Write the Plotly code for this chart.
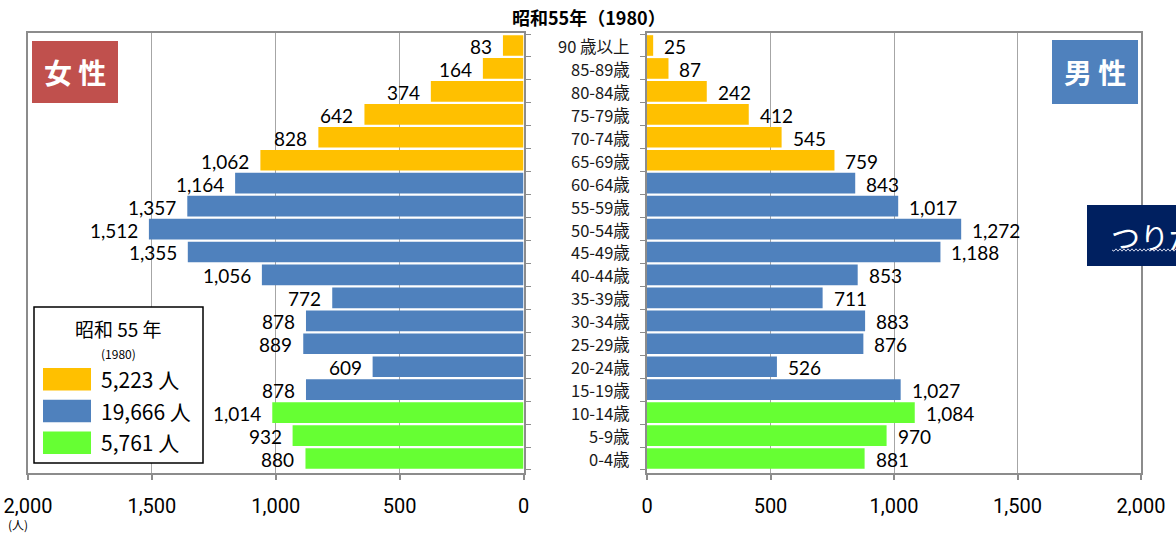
import plotly.graph_objects as go

# Population pyramid, Showa 55 (1980), in persons
age_groups = ["90 歳以上", "85-89歳", "80-84歳", "75-79歳", "70-74歳", "65-69歳",
              "60-64歳", "55-59歳", "50-54歳", "45-49歳", "40-44歳", "35-39歳",
              "30-34歳", "25-29歳", "20-24歳", "15-19歳", "10-14歳", "5-9歳", "0-4歳"]
female = [83, 164, 374, 642, 828, 1062, 1164, 1357, 1512, 1355, 1056, 772,
          878, 889, 609, 878, 1014, 932, 880]
male = [25, 87, 242, 412, 545, 759, 843, 1017, 1272, 1188, 853, 711,
        883, 876, 526, 1027, 1084, 970, 881]
# age band of each row: elderly / working age / children
band = ["elderly"] * 6 + ["working"] * 10 + ["children"] * 3
band_order = ["elderly", "working", "children"]
band_colors = {"elderly": "#FFC000", "working": "#4F81BD", "children": "#66FF33"}
axis_ticks = [0, 500, 1000, 1500, 2000]

W, H = 1176, 535


def px(x):
    return x / W


def py(y):
    return 1 - y / H


bar_colors = [band_colors[b] for b in band]
totals = {b: sum(f + m for f, m, bb in zip(female, male, band) if bb == b) for b in band_order}

NUM_FONT = dict(family="Lato, 'Open Sans', sans-serif", size=19, color="#000000")
JP_FONT = "'Noto Sans CJK JP', 'Noto Sans', sans-serif"
TICK_FONT = dict(family="'Liberation Sans Narrow', 'Roboto', sans-serif", size=20, color="#000000")

fig = go.Figure()
fig.add_trace(go.Bar(y=age_groups, x=female, orientation="h", width=0.9,
                     marker=dict(color=bar_colors, line=dict(width=0)),
                     xaxis="x", yaxis="y", hoverinfo="skip", showlegend=False))
fig.add_trace(go.Bar(y=age_groups, x=male, orientation="h", width=0.9,
                     marker=dict(color=bar_colors, line=dict(width=0)),
                     xaxis="x2", yaxis="y2", hoverinfo="skip", showlegend=False))

grid = dict(showgrid=True, gridcolor="#A6A6A6", gridwidth=1, zeroline=False,
            tickvals=axis_ticks, ticktext=[f"{v:,}" for v in axis_ticks],
            showline=True, linecolor="#8C8C8C", linewidth=2, mirror=True,
            ticks="outside", ticklen=5, tickcolor="#8C8C8C", tickwidth=1.5,
            tickfont=TICK_FONT, ticklabelstandoff=9, automargin=False, fixedrange=True)
cat_axis = dict(type="category", categoryorder="array",
                categoryarray=list(reversed(age_groups)),
                showticklabels=False, showgrid=False, zeroline=False,
                showline=True, linecolor="#8C8C8C", linewidth=2, mirror=True,
                ticks="outside", ticklen=5, tickcolor="#8C8C8C", tickson="boundaries",
                automargin=False, domain=[py(473), py(33)], fixedrange=True)

fig.update_layout(
    width=W, height=H,
    margin=dict(l=0, r=0, t=0, b=0, autoexpand=False),
    paper_bgcolor="white", plot_bgcolor="white",
    bargap=0.1, showlegend=False,
    xaxis=dict(grid, domain=[px(28), px(523.5)], range=[2000, 0], anchor="y"),
    yaxis=dict(cat_axis, anchor="x", side="right"),
    xaxis2=dict(grid, domain=[px(647), px(1141)], range=[0, 2000], anchor="y2"),
    yaxis2=dict(cat_axis, anchor="x2", side="left", matches="y"),
)

annotations = []
shapes = []

# value labels beside each bar
for cat, f, m in zip(age_groups, female, male):
    annotations.append(dict(x=f, y=cat, xref="x", yref="y", text=f"{f:,}",
                            xanchor="right", yanchor="middle", xshift=-9, yshift=-1,
                            showarrow=False, font=NUM_FONT))
    annotations.append(dict(x=m, y=cat, xref="x2", yref="y2", text=f"{m:,}",
                            xanchor="left", yanchor="middle", xshift=9, yshift=-1,
                            showarrow=False, font=NUM_FONT))
    # age-class label in the centre column
    annotations.append(dict(x=px(631), y=cat, xref="paper", yref="y", text=cat,
                            xanchor="right", yanchor="middle", showarrow=False,
                            height=21, borderpad=0,
                            font=dict(family=JP_FONT, size=16.5, color="#1A1A1A")))

# title
annotations.append(dict(x=px(589), y=py(17), xref="paper", yref="paper",
                        text="<b>昭和55年（1980）</b>", showarrow=False,
                        xanchor="center", yanchor="middle",
                        font=dict(family=JP_FONT, size=18, color="#000000")))

# unit under the axis
annotations.append(dict(x=px(18), y=py(524), xref="paper", yref="paper",
                        text="(人)", showarrow=False, xanchor="center", yanchor="middle",
                        font=dict(family=JP_FONT, size=12, color="#000000")))

# sex badges
for label, color, x0, x1, y0, y1 in [("女 性", "#C0504D", 32, 118, 41, 103),
                                      ("男 性", "#4F81BD", 1052, 1138, 40, 104)]:
    shapes.append(dict(type="rect", xref="paper", yref="paper",
                       x0=px(x0), x1=px(x1), y0=py(y1), y1=py(y0),
                       fillcolor=color, line=dict(width=0), layer="above"))
    annotations.append(dict(x=px((x0 + x1) / 2), y=py((y0 + y1) / 2), xref="paper", yref="paper",
                            text=f"<b>{label}</b>", showarrow=False,
                            xanchor="center", yanchor="middle",
                            font=dict(family=JP_FONT, size=28, color="white")))

# pyramid-type caption box at the right edge
shapes.append(dict(type="rect", xref="paper", yref="paper",
                   x0=px(1087), x1=px(1300), y0=py(266), y1=py(205),
                   fillcolor="#002060", line=dict(width=0), layer="above"))
annotations.append(dict(x=px(1109), y=py(236), xref="paper", yref="paper",
                        text="つりがね型", showarrow=False, xanchor="left", yanchor="middle",
                        font=dict(family=JP_FONT, size=29, color="white")))
wave = [f"M {px(1112)},{py(250)}"]
xw, k = 1112, 0
while xw < 1180:
    xw += 2
    k += 1
    wave.append(f"L {px(xw)},{py(250 + (1.2 if k % 2 else -1.2))}")
shapes.append(dict(type="path", xref="paper", yref="paper", path=" ".join(wave),
                   line=dict(color="#D0D4E8", width=1), layer="above"))

# legend panel with age-band totals
shapes.append(dict(type="rect", xref="paper", yref="paper",
                   x0=px(34), x1=px(203), y0=py(463), y1=py(307),
                   fillcolor="white", line=dict(color="#000000", width=1.5), layer="above"))
annotations.append(dict(x=px(118), y=py(328), xref="paper", yref="paper",
                        text="昭和 55 年", showarrow=False, xanchor="center", yanchor="middle",
                        font=dict(family=JP_FONT, size=19, color="#000000")))
annotations.append(dict(x=px(118), y=py(353), xref="paper", yref="paper",
                        text="(1980)", showarrow=False, xanchor="center", yanchor="middle",
                        font=dict(family=JP_FONT, size=12, color="#000000")))
for i, b in enumerate(band_order):
    top = 368 + i * 31.7
    shapes.append(dict(type="rect", xref="paper", yref="paper",
                       x0=px(43), x1=px(91), y0=py(top + 22.5), y1=py(top),
                       fillcolor=band_colors[b], line=dict(width=0), layer="above"))
    annotations.append(dict(x=px(99), y=py(top + 11), xref="paper", yref="paper",
                            text=f"{totals[b]:,} 人", showarrow=False,
                            xanchor="left", yanchor="middle",
                            font=dict(family=JP_FONT, size=21, color="#000000")))

fig.update_layout(annotations=annotations, shapes=shapes)
fig.write_html("out.html")
